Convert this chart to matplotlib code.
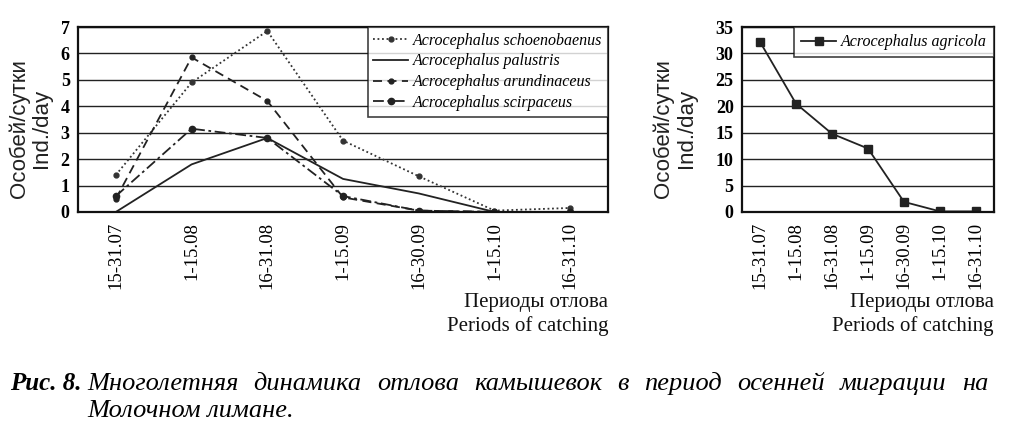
import matplotlib
matplotlib.use("Agg")
import matplotlib.pyplot as plt

PERIODS = ["15-31.07", "1-15.08", "16-31.08", "1-15.09", "16-30.09", "1-15.10", "16-31.10"]

schoenobaenus = [1.4, 4.9, 6.85, 2.7, 1.35, 0.05, 0.15]
palustris = [0.0, 1.8, 2.8, 1.25, 0.7, 0.0, 0.0]
arundinaceus = [0.5, 5.85, 4.2, 0.55, 0.05, 0.0, 0.0]
scirpaceus = [0.6, 3.15, 2.8, 0.6, 0.05, 0.0, 0.0]
agricola = [32.2, 20.5, 14.8, 12.0, 1.9, 0.1, 0.1]

CAPTION_1 = "Многолетняя динамика отлова камышевок в период осенней миграции на"
CAPTION_2 = "Молочном лимане."

SERIF = "Liberation Serif"
SANS = "Liberation Sans"

fig = plt.figure(figsize=(10.24, 4.29), dpi=100)
ax1 = fig.add_axes([0.0762, 0.506, 0.5176, 0.431])
ax2 = fig.add_axes([0.7246, 0.506, 0.2461, 0.431])

x = list(range(len(PERIODS)))

ax1.plot(x, schoenobaenus, color="#333333", lw=1.3, ls=(0, (1, 1.5)),
         marker="o", ms=3.5, label="Acrocephalus schoenobaenus")
ax1.plot(x, palustris, color="#222222", lw=1.3, ls="-",
         label="Acrocephalus palustris")
ax1.plot(x, arundinaceus, color="#222222", lw=1.3, ls=(0, (5, 3)),
         marker="o", ms=3.5, label="Acrocephalus arundinaceus")
ax1.plot(x, scirpaceus, color="#222222", lw=1.3, ls=(0, (6, 2, 1.5, 2)),
         marker="o", ms=4.5, label="Acrocephalus scirpaceus")

ax2.plot(x, agricola, color="#222222", lw=1.3, marker="s", ms=6,
         label="Acrocephalus agricola")


def style_axis(ax, ymax, step):
    ax.set_xlim(-0.5, len(PERIODS) - 0.5)
    ax.set_ylim(0, ymax)
    ax.set_yticks(range(0, ymax + 1, step))
    ax.set_xticks(x)
    ax.set_xticklabels(PERIODS, rotation=90, family=SERIF, fontsize=13.5)
    for lab in ax.get_yticklabels():
        lab.set_family(SERIF)
        lab.set_fontsize(13)
        lab.set_fontweight("bold")
    ax.tick_params(axis="both", length=0, pad=6)
    ax.tick_params(axis="x", pad=7)
    ax.grid(axis="y", color="#222222", lw=1.0)
    ax.set_axisbelow(True)
    for s in ax.spines.values():
        s.set_linewidth(1.6)
        s.set_color("#111111")


style_axis(ax1, 7, 1)
style_axis(ax2, 35, 5)

leg1 = ax1.legend(loc="upper right", borderaxespad=0, frameon=True, fancybox=False,
                  edgecolor="#111111", handlelength=2.2, handletextpad=0.3,
                  labelspacing=0.3, borderpad=0.35,
                  prop={"family": SERIF, "style": "italic", "size": 11.5})
leg1.get_frame().set_linewidth(1.2)

leg2 = ax2.legend(loc="upper right", borderaxespad=0, frameon=True, fancybox=False,
                  edgecolor="#111111", handlelength=2.2, handletextpad=0.3,
                  borderpad=0.45,
                  prop={"family": SERIF, "style": "italic", "size": 11.5})
leg2.get_frame().set_linewidth(1.2)

# y axis labels (two lines, rotated)
for xpos in (0.019, 0.648):
    fig.text(xpos, 0.70, "Особей/сутки", rotation=90, ha="center", va="center",
             family=SANS, fontsize=16, color="#222222")
for xpos in (0.041, 0.670):
    fig.text(xpos, 0.70, "Ind./day", rotation=90, ha="center", va="center",
             family=SANS, fontsize=16, color="#222222")

# x axis labels, right-aligned under each chart
for xr in (0.594, 0.9707):
    fig.text(xr, 0.296, "Периоды отлова", ha="right", va="center",
             family=SERIF, fontsize=15, color="#111111")
    fig.text(xr, 0.24, "Periods of catching", ha="right", va="center",
             family=SERIF, fontsize=15, color="#111111")

# caption: first line justified between x0 and x1
fig.text(0.010, 0.105, "Рис. 8.", ha="left", va="center", family=SERIF,
         style="italic", weight="bold", fontsize=18)
fig.canvas.draw()
renderer = fig.canvas.get_renderer()
words = CAPTION_1.split()
x0, x1 = 0.085, 0.965
word_texts = [fig.text(0, 0.105, w, ha="left", va="center", family=SERIF,
                       style="italic", fontsize=19) for w in words]
widths = [t.get_window_extent(renderer).width / fig.bbox.width for t in word_texts]
gap = (x1 - x0 - sum(widths)) / (len(words) - 1)
pos = x0
for t, w in zip(word_texts, widths):
    t.set_x(pos)
    pos += w + gap
fig.text(x0, 0.042, CAPTION_2, ha="left", va="center", family=SERIF,
         style="italic", fontsize=19)

fig.savefig("out.png", dpi=100, facecolor="white")
